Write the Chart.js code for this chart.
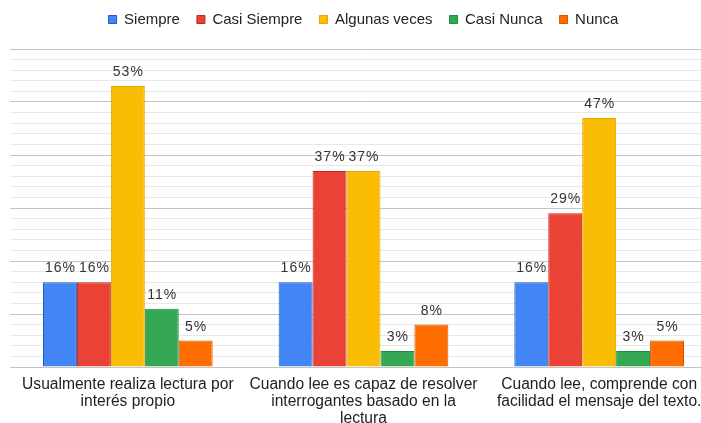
<!DOCTYPE html>
<html>
<head>
<meta charset="utf-8">
<script src="https://cdn.jsdelivr.net/npm/chart.js@4"></script>
<style>
html,body{margin:0;padding:0;background:#fff;overflow:hidden;}
#wrap{width:717px;height:423px;}
</style>
</head>
<body>
<div id="wrap"><canvas id="c" width="717" height="423"></canvas></div>
<script>
const categories = [
  ["Usualmente realiza lectura por", "interés propio"],
  ["Cuando lee es capaz de resolver", "interrogantes basado en la", "lectura"],
  ["Cuando lee, comprende con", "facilidad el mensaje del texto."]
];
const seriesNames = ["Siempre", "Casi Siempre", "Algunas veces", "Casi Nunca", "Nunca"];
const siempre = [16, 16, 16];
const casiSiempre = [16, 37, 29];
const algunasVeces = [53, 37, 47];
const casiNunca = [11, 3, 3];
const nunca = [5, 8, 5];
const fills = ["#4285F4", "#EA4335", "#FBBC04", "#34A853", "#FF6D01"];
const borders = ["#1A5BD0", "#C5221F", "#E3A500", "#1E8E3E", "#D95400"];

const values = [siempre, casiSiempre, algunasVeces, casiNunca, nunca];
const FONT = '"Liberation Sans", Arial, sans-serif';

const labelPlugin = {
  id: 'barLabels',
  afterDatasetsDraw(chart) {
    const ctx = chart.ctx;
    ctx.save();
    ctx.font = '14px ' + FONT;
    try { ctx.letterSpacing = '1px'; } catch (e) {}
    ctx.fillStyle = '#333';
    ctx.textAlign = 'center';
    ctx.textBaseline = 'alphabetic';
    chart.data.datasets.forEach((ds, i) => {
      const meta = chart.getDatasetMeta(i);
      meta.data.forEach((bar, j) => {
        ctx.fillText(ds.data[j] + '%', bar.x + 0.5, bar.y - 10);
      });
    });
    ctx.restore();
  }
};

const legendGap = {
  id: 'legendGap',
  beforeInit(chart) {
    const orig = chart.legend.fit;
    chart.legend.fit = function () {
      orig.call(this);
      this.height += 12;
    };
  }
};

new Chart(document.getElementById('c'), {
  type: 'bar',
  data: {
    labels: categories,
    datasets: seriesNames.map((n, i) => ({
      label: n,
      data: values[i],
      backgroundColor: fills[i],
      borderColor: borders[i],
      borderWidth: 1,
      categoryPercentage: 0.72,
      barPercentage: 1.0
    }))
  },
  options: {
    responsive: false,
    animation: false,
    layout: { padding: { left: 10, right: 0, top: -5, bottom: -5 } },
    plugins: {
      legend: {
        position: 'top',
        labels: {
          boxWidth: 8,
          boxHeight: 8,
          color: '#222',
          font: { size: 15, family: FONT },
          padding: 17
        }
      },
      tooltip: { enabled: false }
    },
    scales: {
      x: {
        grid: { display: false },
        border: { display: false },
        ticks: {
          color: '#222',
          font: { size: 15.6, family: FONT, lineHeight: '17px' },
          maxRotation: 0,
          autoSkip: false,
          padding: 1
        }
      },
      y: {
        min: 0,
        max: 60,
        ticks: { display: false, stepSize: 2 },
        border: { display: false },
        grid: {
          color: (c) => (c.tick && c.tick.value % 10 === 0) ? '#c4c4c4' : '#e8e8e8',
          lineWidth: 1,
          drawTicks: false
        }
      }
    }
  },
  plugins: [labelPlugin, legendGap]
});
</script>
</body>
</html>
